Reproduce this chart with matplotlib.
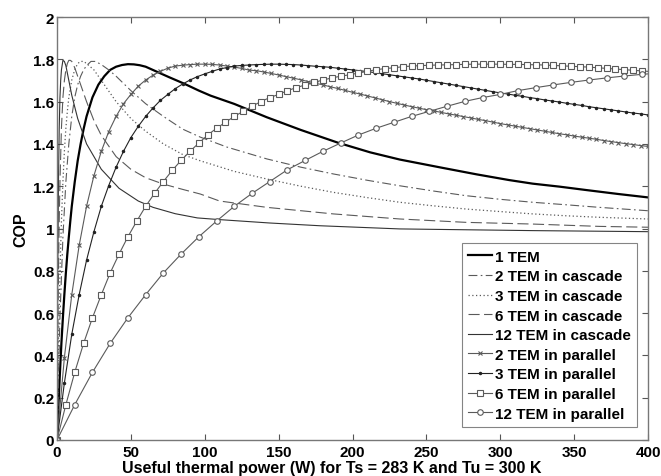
import matplotlib
matplotlib.use("Agg")
import matplotlib.pyplot as plt
import numpy as np

plt.rcParams['font.family'] = ['Liberation Sans', 'DejaVu Sans']
plt.rcParams['font.weight'] = 'bold'

# 1 TEM (thick solid)
tem1_x = [0, 1, 2, 3, 4, 5, 6, 7, 8, 9, 10, 12, 14, 16, 18, 20, 24, 28, 32, 36, 40, 44, 48,
          52, 56, 60, 68, 76, 86, 96, 104, 120, 142, 165, 190, 212, 232, 260, 284, 306, 322,
          340, 358, 380, 400]
tem1_y = [0, 0.17, 0.32, 0.46, 0.58, 0.69, 0.79, 0.88, 0.96, 1.035, 1.105, 1.22, 1.32, 1.40,
          1.47, 1.53, 1.62, 1.68, 1.72, 1.75, 1.765, 1.773, 1.777, 1.776, 1.772, 1.765, 1.74,
          1.715, 1.685, 1.652, 1.628, 1.589, 1.526, 1.466, 1.406, 1.36, 1.326, 1.288, 1.256,
          1.229, 1.212, 1.198, 1.182, 1.163, 1.147]

# cascades
casc2_x = [0, 2, 4, 6, 8, 10, 12, 14, 16, 18, 20, 23, 26, 30, 35, 40, 50, 60, 72, 85, 97, 115,
           142, 165, 187, 210, 232, 255, 277, 300, 322, 345, 367, 400]
casc2_y = [0, 0.58, 0.96, 1.22, 1.40, 1.53, 1.62, 1.68, 1.72, 1.75, 1.77, 1.79, 1.79, 1.775,
           1.75, 1.72, 1.652, 1.59, 1.53, 1.47, 1.432, 1.385, 1.329, 1.29, 1.258, 1.228, 1.202,
           1.177, 1.155, 1.138, 1.124, 1.112, 1.10, 1.084]

casc3_x = [0, 1, 2, 3, 4, 5, 6, 7, 8, 10, 12, 14, 16, 18, 20, 25, 30, 40, 50, 60, 72, 85, 97,
           120, 142, 165, 187, 210, 232, 255, 277, 300, 322, 345, 367, 400]
casc3_y = [0, 0.457, 0.79, 1.035, 1.22, 1.365, 1.474, 1.554, 1.619, 1.702, 1.751, 1.78, 1.79,
           1.79, 1.78, 1.75, 1.70, 1.60, 1.52, 1.46, 1.40, 1.35, 1.32, 1.27, 1.234, 1.20, 1.171,
           1.146, 1.124, 1.107, 1.092, 1.08, 1.069, 1.06, 1.053, 1.045]

casc6_x = [0, 0.5, 1, 1.5, 2, 3, 4, 5, 6, 7, 8, 9, 10, 12, 15, 20, 25, 30, 40, 50, 60, 72, 85,
           97, 110, 142, 187, 232, 277, 322, 367, 400]
casc6_y = [0, 0.457, 0.79, 1.035, 1.22, 1.474, 1.619, 1.70, 1.75, 1.78, 1.795, 1.795, 1.79,
           1.76, 1.70, 1.60, 1.51, 1.44, 1.34, 1.28, 1.24, 1.21, 1.185, 1.163, 1.13, 1.10,
           1.069, 1.045, 1.029, 1.021, 1.01, 1.006]

casc12_x = [0, 0.25, 0.5, 1, 1.5, 2, 2.5, 3, 4, 5, 6, 8, 10, 14, 20, 30, 42, 55, 65, 80, 95, 110,
            144, 178, 232, 322, 400]
casc12_y = [0, 0.457, 0.79, 1.22, 1.474, 1.62, 1.70, 1.75, 1.795, 1.79, 1.77, 1.70, 1.63, 1.52,
            1.40, 1.28, 1.19, 1.13, 1.10, 1.07, 1.05, 1.042, 1.026, 1.013, 0.998, 0.99, 0.985]

# parallel
par2_x = np.arange(0, 401, 5)
par2_y = [0, 0.39, 0.687, 0.92, 1.105, 1.25, 1.365, 1.458, 1.53, 1.59, 1.634, 1.673, 1.702,
          1.725, 1.743, 1.758, 1.768, 1.772, 1.775, 1.777, 1.777, 1.776, 1.773, 1.768, 1.763,
          1.757, 1.749, 1.746, 1.740, 1.733, 1.726, 1.718, 1.711, 1.703, 1.695, 1.687, 1.679,
          1.670, 1.662, 1.653, 1.644, 1.636, 1.627, 1.618, 1.609, 1.600, 1.592, 1.584, 1.576,
          1.569, 1.562, 1.556, 1.549, 1.542, 1.536, 1.529, 1.523, 1.516, 1.510, 1.503, 1.496,
          1.490, 1.484, 1.478, 1.472, 1.466, 1.460, 1.454, 1.448, 1.443, 1.437, 1.432, 1.427,
          1.422, 1.416, 1.411, 1.406, 1.401, 1.397, 1.392, 1.388]

par3_x = np.arange(0, 401, 5)
par3_y = [0, 0.27, 0.50, 0.687, 0.85, 0.985, 1.105, 1.203, 1.29, 1.365, 1.43, 1.483, 1.53,
          1.57, 1.606, 1.634, 1.661, 1.683, 1.702, 1.718, 1.731, 1.743, 1.754, 1.761, 1.768,
          1.771, 1.773, 1.775, 1.776, 1.777, 1.777, 1.776, 1.775, 1.773, 1.770, 1.767, 1.765,
          1.762, 1.758, 1.754, 1.750, 1.746, 1.742, 1.737, 1.732, 1.727, 1.722, 1.717, 1.712,
          1.707, 1.701, 1.695, 1.689, 1.683, 1.677, 1.671, 1.665, 1.659, 1.653, 1.647, 1.641,
          1.636, 1.630, 1.625, 1.619, 1.614, 1.608, 1.603, 1.598, 1.592, 1.587, 1.582, 1.576,
          1.571, 1.566, 1.561, 1.556, 1.551, 1.546, 1.542, 1.537]

par6_x = np.arange(0, 403, 6)
par6_y = [0, 0.167, 0.32, 0.457, 0.578, 0.687, 0.79, 0.879, 0.961, 1.035, 1.105, 1.166, 1.222,
          1.275, 1.322, 1.365, 1.404, 1.442, 1.474, 1.502, 1.53, 1.554, 1.578, 1.60, 1.619,
          1.634, 1.652, 1.666, 1.679, 1.691, 1.702, 1.712, 1.72, 1.727, 1.735, 1.743, 1.751,
          1.756, 1.76, 1.765, 1.768, 1.770, 1.772, 1.773, 1.774, 1.775, 1.776, 1.777, 1.777,
          1.777, 1.777, 1.776, 1.776, 1.775, 1.774, 1.773, 1.771, 1.769, 1.767, 1.765, 1.763,
          1.760, 1.757, 1.754, 1.751, 1.748, 1.745, 1.742]

par12_x = np.arange(0, 409, 12)
par12_y = [0, 0.167, 0.32, 0.457, 0.578, 0.687, 0.79, 0.879, 0.961, 1.035, 1.105, 1.166,
           1.222, 1.278, 1.322, 1.365, 1.404, 1.442, 1.474, 1.502, 1.53, 1.554, 1.578, 1.601,
           1.619, 1.634, 1.652, 1.666, 1.679, 1.691, 1.702, 1.712, 1.721, 1.729, 1.735]

labels = ['1 TEM', '2 TEM in cascade', '3 TEM in cascade', '6 TEM in cascade',
          '12 TEM in cascade', '2 TEM in parallel', '3 TEM in parallel', '6 TEM in parallel',
          '12 TEM in parallel']

fig = plt.figure(figsize=(6.61, 4.77), dpi=100)
ax = fig.add_axes([57/661, 1-441/477, 591/661, 423/477])

grey = '#5a5a5a'
ax.plot(tem1_x, tem1_y, color='black', lw=1.6, label=labels[0])
ax.plot(casc2_x, casc2_y, color=grey, lw=0.8, ls=(0, (8, 3, 1.5, 3)), label=labels[1])
ax.plot(casc3_x, casc3_y, color=grey, lw=0.9, ls=(0, (1, 2)), label=labels[2])
ax.plot(casc6_x, casc6_y, color=grey, lw=0.8, ls=(0, (10, 4)), label=labels[3])
ax.plot(casc12_x, casc12_y, color='#333333', lw=0.8, label=labels[4])
ax.plot(par2_x, par2_y, color=grey, lw=0.8, marker='x', ms=3, mew=0.8, label=labels[5])
ax.plot(par3_x, par3_y, color='#222222', lw=0.8, marker='.', ms=3, label=labels[6])
ax.plot(par6_x, par6_y, color=grey, lw=0.8, marker='s', ms=3.8, mfc='white', mew=0.8,
        label=labels[7])
ax.plot(par12_x, par12_y, color=grey, lw=0.8, marker='o', ms=4, mfc='white', mew=0.8,
        label=labels[8])

ax.set_xlim(0, 400)
ax.set_ylim(0, 2)
ax.set_xticks(np.arange(0, 401, 50))
ax.set_yticks(np.arange(0, 2.01, 0.2))
ax.set_yticklabels(['0', '0.2', '0.4', '0.6', '0.8', '1', '1.2', '1.4', '1.6', '1.8', '2'])
ax.tick_params(direction='in', top=True, right=True, length=4, width=0.8, color='#555555',
               labelsize=11, pad=2)
ax.tick_params(axis='x', pad=3.5)
for lbl in ax.get_xticklabels() + ax.get_yticklabels():
    lbl.set_fontweight('bold')
for s in ax.spines.values():
    s.set_color('#777777')
    s.set_linewidth(1)

ax.set_xlabel('Useful thermal power (W) for Ts = 283 K and Tu = 300 K', fontsize=11.5,
              fontweight='bold', labelpad=0.5)
ax.xaxis.label.set_x(0.465)
ax.set_ylabel('COP', fontsize=11.5, fontweight='bold', labelpad=3)

leg = ax.legend(loc='lower right', bbox_to_anchor=(0.982, 0.031), fontsize=11, frameon=True,
                fancybox=False, handlelength=1.6, handletextpad=0.2, labelspacing=0.37,
                borderpad=0.4, borderaxespad=0)
leg.get_frame().set_edgecolor('#666666')
leg.get_frame().set_linewidth(0.8)
for t in leg.get_texts():
    t.set_fontweight('bold')

fig.savefig('out.png', dpi=100)
